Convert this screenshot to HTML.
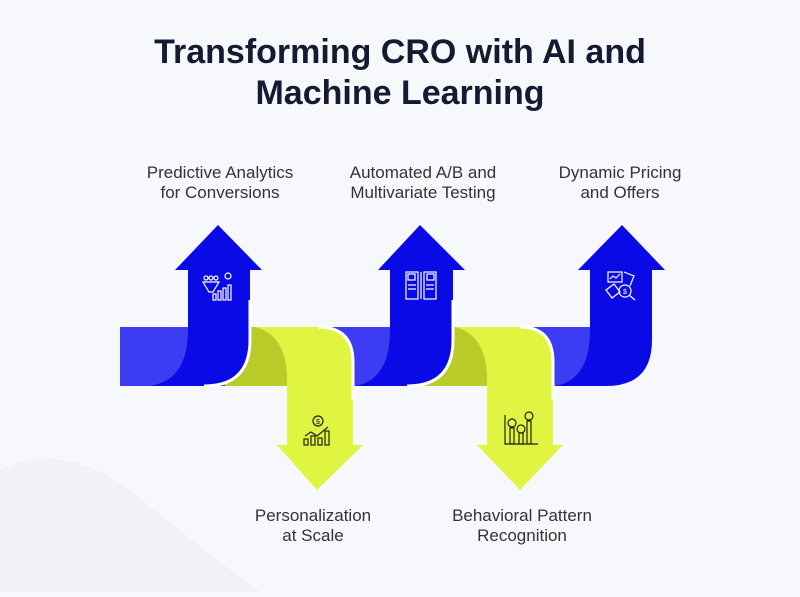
<!DOCTYPE html>
<html><head><style>
body{margin:0;width:800px;height:592px;background:#f7f8fc;overflow:hidden;font-family:"Liberation Sans",sans-serif}
</style></head><body>
<svg width="800" height="592" viewBox="0 0 800 592" xmlns="http://www.w3.org/2000/svg">
<path d="M0,470 Q60,440 130,490 Q190,540 260,592 L0,592Z" fill="#f0f2f8"/>
<text x="400" y="63" text-anchor="middle" font-family="Liberation Sans,sans-serif" font-weight="bold" font-size="34" fill="#151a33">Transforming CRO with AI and</text>
<text x="400" y="104" text-anchor="middle" font-family="Liberation Sans,sans-serif" font-weight="bold" font-size="34" fill="#151a33">Machine Learning</text>
<g font-family="Liberation Sans,sans-serif" font-size="17" fill="#333" text-anchor="middle">
<text x="220" y="178">Predictive Analytics</text><text x="220" y="198">for Conversions</text>
<text x="423" y="178">Automated A/B and</text><text x="423" y="198">Multivariate Testing</text>
<text x="620" y="178">Dynamic Pricing</text><text x="620" y="198">and Offers</text>
<text x="313" y="521">Personalization</text><text x="313" y="541">at Scale</text>
<text x="522" y="521">Behavioral Pattern</text><text x="522" y="541">Recognition</text>
</g>
<rect x="120" y="327" width="120" height="59" fill="#3c3cf2"/>
<rect x="225" y="327" width="75" height="59" fill="#b9cc2a"/>
<rect x="320" y="327" width="80" height="59" fill="#3c3cf2"/>
<rect x="425" y="327" width="75" height="59" fill="#b9cc2a"/>
<rect x="520" y="327" width="80" height="59" fill="#3c3cf2"/>
<path d="M188,270 L175,270 L218,225 L262,270 L250,270 L250,340 Q250,386 204,386 L150,386 Q188,380 188,330 Z" fill="#0a0ae6"/>
<path d="M250,300 L250,340 Q250,386 204,386" fill="none" stroke="#fff" stroke-width="3"/>
<path d="M255,327 L318,327 Q353,327 353,362 L353,445 L363,445 L317,490 L277,445 L287,445 L287,380 Q287,335 255,327 Z" fill="#e0f542"/>
<path d="M318,327 Q353,327 353,362 L353,400" fill="none" stroke="#fff" stroke-width="3"/>
<path d="M390,270 L378,270 L420,225 L465,270 L453,270 L453,340 Q453,386 407,386 L355,386 Q390,380 390,330 Z" fill="#0a0ae6"/>
<path d="M453,300 L453,340 Q453,386 407,386" fill="none" stroke="#fff" stroke-width="3"/>
<path d="M455,327 L520,327 Q553,327 553,362 L553,445 L563,445 L520,490 L477,445 L487,445 L487,380 Q487,335 455,327 Z" fill="#e0f542"/>
<path d="M520,327 Q553,327 553,362 L553,400" fill="none" stroke="#fff" stroke-width="3"/>
<path d="M590,270 L578,270 L622,225 L665,270 L652,270 L652,340 Q652,386 606,386 L555,386 Q590,380 590,330 Z" fill="#0a0ae6"/>
<g fill="none" stroke="#fff" stroke-width="1.2">
<path d="M203,282 L219,282 L213,292 L209,292Z"/><circle cx="206" cy="278" r="2"/><circle cx="211" cy="278" r="2"/><circle cx="216" cy="278" r="2"/>
<circle cx="228" cy="276" r="3"/><rect x="213" y="294" width="3" height="6"/><rect x="218" y="291" width="3" height="9"/><rect x="223" y="288" width="3" height="12"/><rect x="228" y="285" width="3" height="15"/>
<rect x="406" y="272" width="12" height="27"/><rect x="424" y="272" width="12" height="27"/><rect x="408" y="274" width="7" height="6"/><rect x="427" y="274" width="7" height="6"/>
<line x1="408" y1="285" x2="416" y2="285"/><line x1="408" y1="289" x2="416" y2="289"/><line x1="426" y1="285" x2="434" y2="285"/><line x1="426" y1="289" x2="434" y2="289"/><line x1="421" y1="272" x2="421" y2="299"/>
<rect x="608" y="272" width="14" height="10"/><path d="M610,279 L613,276 L616,278 L620,274"/><circle cx="625" cy="291" r="6"/><line x1="629" y1="295" x2="635" y2="300"/><path d="M624,272 L634,276 L630,286"/><path d="M606,290 L614,284 L620,292 L612,298Z"/>
</g>
<g fill="none" stroke="#222" stroke-width="1.2">
<circle cx="318" cy="421" r="5"/><path d="M305,436 L311,432 L317,436 L328,427"/><rect x="304" y="439" width="4" height="6"/><rect x="311" y="436" width="4" height="9"/><rect x="318" y="438" width="4" height="7"/><rect x="325" y="431" width="4" height="14"/>
<path d="M505,415 L505,444 L538,444"/><circle cx="512" cy="423" r="4"/><circle cx="521" cy="429" r="4"/><circle cx="529" cy="416" r="4"/><rect x="510" y="428" width="4" height="16"/><rect x="519" y="433" width="4" height="11"/><rect x="527" y="421" width="4" height="23"/>
</g>
<text x="318" y="424" font-size="7" text-anchor="middle" fill="#222" font-family="Liberation Sans,sans-serif">$</text>
<text x="625" y="294" font-size="7" text-anchor="middle" fill="#fff" font-family="Liberation Sans,sans-serif">$</text>
</svg>
</body></html>
